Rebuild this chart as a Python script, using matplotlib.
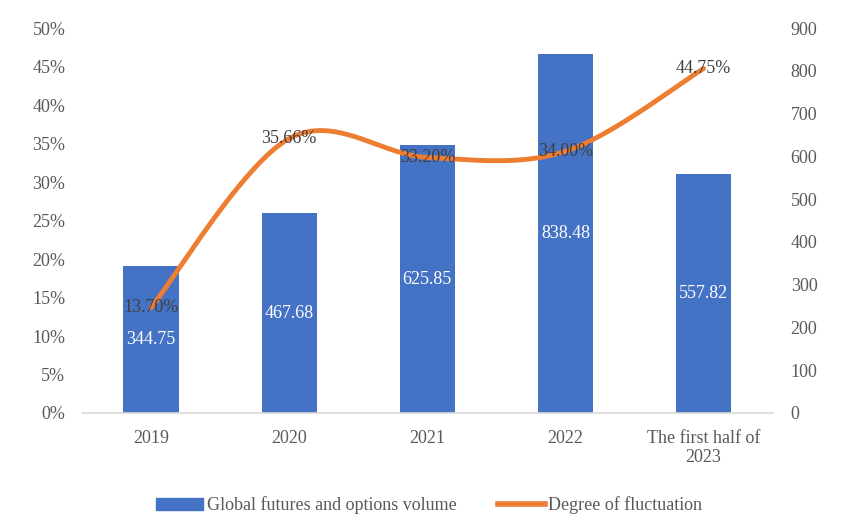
import numpy as np
import matplotlib.pyplot as plt
from matplotlib.lines import Line2D
from matplotlib.patches import Patch

categories = ['2019', '2020', '2021', '2022', 'The first half of\n2023']
volume = [344.75, 467.68, 625.85, 838.48, 557.82]
fluctuation = [13.70, 35.66, 33.20, 34.00, 44.75]

bar_color = '#4472C4'
line_color = '#ED7D31'
text_color = '#595959'

plt.rcParams['font.family'] = ['Liberation Serif', 'DejaVu Serif']
plt.rcParams['font.size'] = 13


def smooth(xs, ys, n=40):
    # Catmull-Rom style smoothing, like the office "smoothed line"
    xs = np.asarray(xs, float)
    ys = np.asarray(ys, float)
    px = np.concatenate([[xs[0]], xs, [xs[-1]]])
    py = np.concatenate([[ys[0]], ys, [ys[-1]]])
    out_x, out_y = [], []
    t = np.linspace(0, 1, n)
    for i in range(1, len(px) - 2):
        p0, p1, p2, p3 = [np.array([px[j], py[j]]) for j in (i - 1, i, i + 1, i + 2)]
        c1 = p1 + (p2 - p0) / 6
        c2 = p2 - (p3 - p1) / 6
        b = ((1 - t) ** 3)[:, None] * p1 + (3 * (1 - t) ** 2 * t)[:, None] * c1 \
            + (3 * (1 - t) * t ** 2)[:, None] * c2 + (t ** 3)[:, None] * p2
        out_x.extend(b[:, 0])
        out_y.extend(b[:, 1])
    return out_x, out_y


fig = plt.figure(figsize=(8.5, 5.21), dpi=100)
ax = fig.add_axes([0.0965, 0.2073, 0.8125, 0.7387])
ax2 = ax.twinx()

x = np.arange(len(categories))

# bars on the right axis
bars = ax2.bar(x, volume, width=0.4, color=bar_color, zorder=1)
for xi, v in zip(x, volume):
    ax2.text(xi, v / 2, f'{v:.2f}', color='white', ha='center', va='center', fontsize=13)
ax2.set_ylim(0, 900)
ax2.set_yticks(range(0, 901, 100))

# line on the left axis, drawn above the bars
ax.set_zorder(ax2.get_zorder() + 1)
ax.patch.set_visible(False)
sx, sy = smooth(x, fluctuation)
ax.plot(sx, sy, color=line_color, lw=3.5, solid_capstyle='round')
for xi, v in zip(x, fluctuation):
    ax.text(xi, v, f'{v:.2f}%', color='#404040', ha='center', va='center', fontsize=13)
ax.set_ylim(0, 50)
ax.set_yticks(range(0, 51, 5))
ax.set_yticklabels([f'{v}%' for v in range(0, 51, 5)])
ax.set_xlim(-0.5, len(categories) - 0.5)
ax.set_xticks(x)
ax.set_xticklabels(categories)

for a in (ax, ax2):
    for s in a.spines.values():
        s.set_visible(False)
    a.tick_params(length=0, colors=text_color, labelsize=13)
ax.spines['bottom'].set_visible(True)
ax.spines['bottom'].set_color('#D9D9D9')
ax.spines['bottom'].set_linewidth(1.2)
ax.tick_params(axis='y', pad=12)
ax2.tick_params(axis='y', pad=13)
ax.tick_params(axis='x', pad=12)

handles = [Patch(color=bar_color), Line2D([], [], color=line_color, lw=4)]
fig.legend(handles, ['Global futures and options volume', 'Degree of fluctuation'],
           loc='center', bbox_to_anchor=(0.505, 0.03), ncol=2, frameon=False,
           fontsize=13, labelcolor=text_color, handlelength=2.6, handletextpad=0.2,
           columnspacing=2.3)

fig.savefig('out.png', dpi=100)
